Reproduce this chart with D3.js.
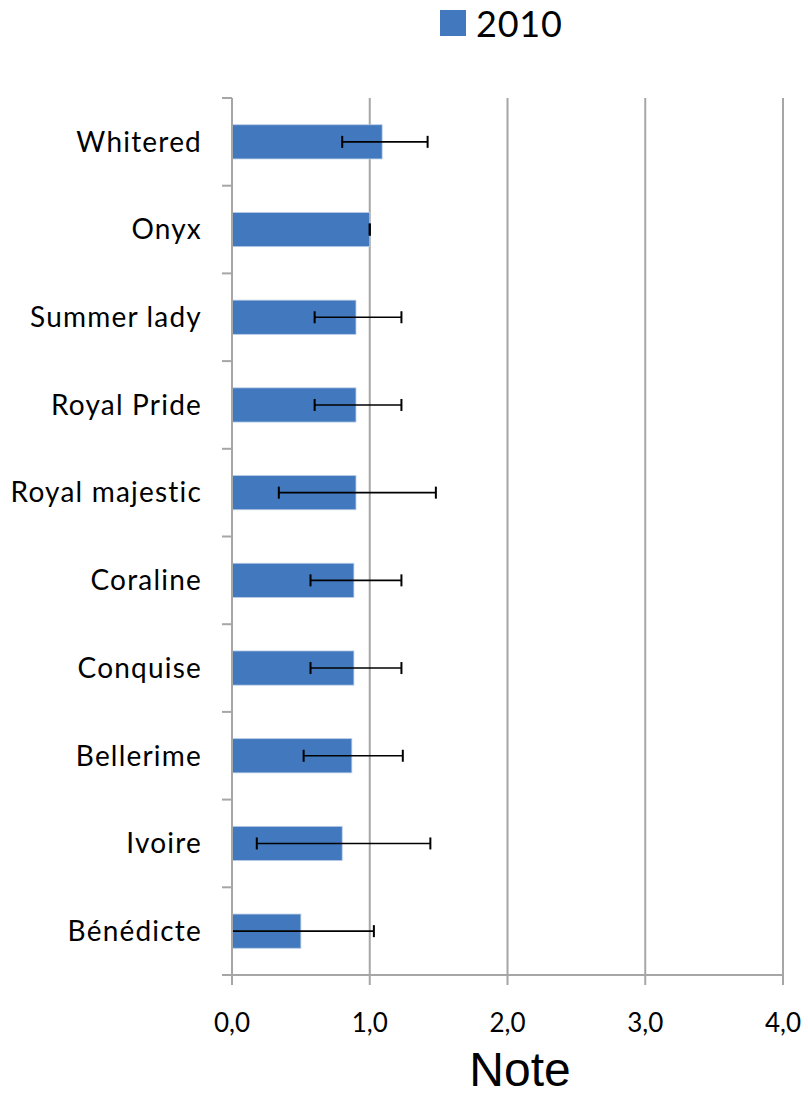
<!DOCTYPE html>
<html>
<head>
<meta charset="utf-8">
<script src="https://cdnjs.cloudflare.com/ajax/libs/d3/7.8.5/d3.min.js"></script>
<style>
body{margin:0;background:#fff;}
</style>
</head>
<body>
<svg id="chart" width="808" height="1095"></svg>
<script>
var varieties = ["Whitered","Onyx","Summer lady","Royal Pride","Royal majestic","Coraline","Conquise","Bellerime","Ivoire","Bénédicte"];
var notes = [1.09, 1.0, 0.90, 0.90, 0.90, 0.885, 0.885, 0.87, 0.80, 0.50];
var errLow = [0.80, 1.0, 0.60, 0.60, 0.34, 0.57, 0.57, 0.52, 0.18, -0.03];
var errHigh = [1.42, 1.0, 1.23, 1.23, 1.48, 1.23, 1.23, 1.24, 1.44, 1.03];
var xTicks = [0, 1, 2, 3, 4];
var seriesName = "2010";

function drawChart(){
	let svg = d3.select("#chart");
	let left = 232, right = 783, top = 98, bottom = 975;
	let font = "Lato, 'Open Sans', sans-serif";

	let x = d3.scaleLinear().domain([0, 4]).range([left, right]);
	let y = d3.scaleBand().domain(varieties).range([top, bottom]).paddingInner(0.61).paddingOuter(0.305);
	let band = d3.scaleBand().domain(varieties).range([top, bottom]);

	// vertical gridlines
	svg.append("g").selectAll("line").data(xTicks.slice(1)).enter().append("line")
		.attr("x1", d => x(d)).attr("x2", d => x(d))
		.attr("y1", top).attr("y2", bottom + 10)
		.attr("stroke", "#a6a6a6").attr("stroke-width", 2);

	// bars
	svg.append("g").selectAll("rect").data(varieties).enter().append("rect")
		.attr("x", x(0))
		.attr("y", d => y(d))
		.attr("width", (d, i) => x(notes[i]) - x(0))
		.attr("height", y.bandwidth())
		.attr("fill", "#4178be")
		.attr("stroke", "#b9cde5").attr("stroke-width", 0.8);

	// error bars
	let err = svg.append("g");
	varieties.forEach(function(v, i){
		let cy = y(v) + y.bandwidth() / 2;
		let lo = Math.max(errLow[i], 0);
		err.append("line").attr("x1", x(lo)).attr("x2", x(errHigh[i]))
			.attr("y1", cy).attr("y2", cy)
			.attr("stroke", "#000").attr("stroke-width", 1.6);
		if (errLow[i] >= 0) {
			err.append("line").attr("x1", x(lo)).attr("x2", x(lo))
				.attr("y1", cy - 6).attr("y2", cy + 6)
				.attr("stroke", "#000").attr("stroke-width", 2);
		}
		err.append("line").attr("x1", x(errHigh[i])).attr("x2", x(errHigh[i]))
			.attr("y1", cy - 6).attr("y2", cy + 6)
			.attr("stroke", "#000").attr("stroke-width", 2);
	});

	// axes
	let axes = svg.append("g");
	axes.append("line").attr("x1", left).attr("x2", left).attr("y1", top).attr("y2", bottom + 10)
		.attr("stroke", "#a6a6a6").attr("stroke-width", 2);
	axes.append("line").attr("x1", left - 10).attr("x2", right).attr("y1", bottom).attr("y2", bottom)
		.attr("stroke", "#a6a6a6").attr("stroke-width", 2);
	axes.selectAll(".ytick").data(varieties).enter().append("line")
		.attr("x1", left - 10).attr("x2", left)
		.attr("y1", d => band(d)).attr("y2", d => band(d))
		.attr("stroke", "#a6a6a6").attr("stroke-width", 2);

	// category labels
	svg.append("g").selectAll("text").data(varieties).enter().append("text")
		.attr("x", 202)
		.attr("y", d => y(d) + y.bandwidth() / 2)
		.attr("dy", "0.35em")
		.attr("text-anchor", "end")
		.style("font-family", font).style("font-size", "28px").style("letter-spacing", "1.2px").style("fill", "#000")
		.text(d => d);

	// x tick labels
	svg.append("g").selectAll("text").data(xTicks).enter().append("text")
		.attr("x", d => x(d)).attr("y", 1032)
		.attr("text-anchor", "middle")
		.style("font-family", font).style("font-size", "26px").style("fill", "#000")
		.text(d => d3.format(".1f")(d).replace(".", ","));

	// axis title
	svg.append("text").attr("x", 520).attr("y", 1086)
		.attr("text-anchor", "middle")
		.style("font-family", "'Liberation Sans', Arial, sans-serif").style("font-size", "48px")
		.text("Note");

	// legend
	svg.append("rect").attr("x", 440).attr("y", 10).attr("width", 26).attr("height", 26)
		.attr("fill", "#4178be");
	svg.append("text").attr("x", 476).attr("y", 37)
		.style("font-family", font).style("font-size", "36px").style("letter-spacing", "0.8px")
		.text(seriesName);
}
drawChart();
</script>
</body>
</html>
